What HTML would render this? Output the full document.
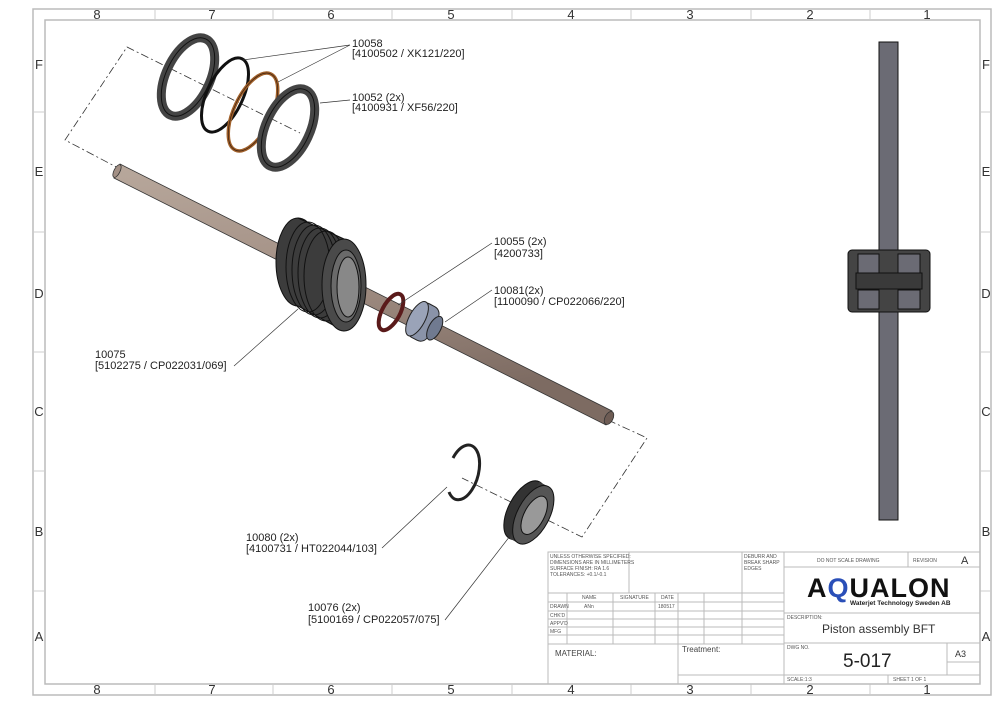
<!DOCTYPE html>
<html><head><meta charset="utf-8"><style>
html,body{margin:0;padding:0;background:#fff;}
svg{display:block;font-family:"Liberation Sans",sans-serif;}
</style></head><body>
<svg width="1000" height="707" viewBox="0 0 1000 707" xmlns="http://www.w3.org/2000/svg">
<defs>
<linearGradient id="sh" x1="0" y1="0" x2="0.3" y2="1">
<stop offset="0" stop-color="#b8a89c"/><stop offset="0.5" stop-color="#a39085"/><stop offset="1" stop-color="#7d6b62"/></linearGradient>
</defs>
<rect x="33" y="9" width="958" height="686" fill="none" stroke="#bbb" stroke-width="1.5"/>
<rect x="45" y="20" width="935" height="664" fill="none" stroke="#bbb" stroke-width="1.5"/>
<g stroke="#ccc" stroke-width="1">
<line x1="155" y1="9" x2="155" y2="20"/><line x1="273" y1="9" x2="273" y2="20"/><line x1="392" y1="9" x2="392" y2="20"/><line x1="512" y1="9" x2="512" y2="20"/><line x1="631" y1="9" x2="631" y2="20"/><line x1="751" y1="9" x2="751" y2="20"/><line x1="870" y1="9" x2="870" y2="20"/>
<line x1="155" y1="684" x2="155" y2="695"/><line x1="273" y1="684" x2="273" y2="695"/><line x1="392" y1="684" x2="392" y2="695"/><line x1="512" y1="684" x2="512" y2="695"/><line x1="631" y1="684" x2="631" y2="695"/><line x1="751" y1="684" x2="751" y2="695"/><line x1="870" y1="684" x2="870" y2="695"/>
<line x1="33" y1="112" x2="45" y2="112"/><line x1="33" y1="232" x2="45" y2="232"/><line x1="33" y1="352" x2="45" y2="352"/><line x1="33" y1="471" x2="45" y2="471"/><line x1="33" y1="591" x2="45" y2="591"/>
<line x1="980" y1="112" x2="991" y2="112"/><line x1="980" y1="232" x2="991" y2="232"/><line x1="980" y1="352" x2="991" y2="352"/><line x1="980" y1="471" x2="991" y2="471"/><line x1="980" y1="591" x2="991" y2="591"/>
</g>
<g font-size="13" fill="#333" text-anchor="middle">
<text x="97" y="19">8</text><text x="212" y="19">7</text><text x="331" y="19">6</text><text x="451" y="19">5</text><text x="571" y="19">4</text><text x="690" y="19">3</text><text x="810" y="19">2</text><text x="927" y="19">1</text>
<text x="97" y="694">8</text><text x="212" y="694">7</text><text x="331" y="694">6</text><text x="451" y="694">5</text><text x="571" y="694">4</text><text x="690" y="694">3</text><text x="810" y="694">2</text><text x="927" y="694">1</text>
<text x="39" y="69">F</text><text x="39" y="176">E</text><text x="39" y="298">D</text><text x="39" y="416">C</text><text x="39" y="536">B</text><text x="39" y="641">A</text>
<text x="986" y="69">F</text><text x="986" y="176">E</text><text x="986" y="298">D</text><text x="986" y="416">C</text><text x="986" y="536">B</text><text x="986" y="641">A</text>
</g>
<g fill="none" stroke="#333" stroke-width="0.8" stroke-dasharray="8,3,2,3">
<polyline points="122,170 65,140 127,47 300,133"/>
<polyline points="608,420 647,438 582,537 462,478"/>
<line x1="360" y1="290" x2="440" y2="330"/>
</g>
<polygon points="120,164 612,411 606,425 114,178" fill="url(#sh)" stroke="#333" stroke-width="0.8"/>
<ellipse cx="117" cy="171" rx="3" ry="7" transform="rotate(27 117 171)" fill="#a39085" stroke="#333" stroke-width="0.8"/>
<ellipse cx="609" cy="418" rx="4" ry="7" transform="rotate(27 609 418)" fill="#6e5c54" stroke="#333" stroke-width="0.8"/>
<g transform="rotate(25 188 77)"><ellipse cx="188" cy="77" rx="22" ry="42" fill="none" stroke="#444" stroke-width="9"/><ellipse cx="188" cy="77" rx="22" ry="42" fill="none" stroke="#111" stroke-width="1"/></g>
<ellipse cx="225" cy="95" rx="18" ry="40" transform="rotate(25 225 95)" fill="none" stroke="#111" stroke-width="3"/>
<ellipse cx="253" cy="112" rx="19" ry="42" transform="rotate(25 253 112)" fill="none" stroke="#a0602a" stroke-width="3.5"/>
<ellipse cx="253" cy="112" rx="19" ry="42" transform="rotate(25 253 112)" fill="none" stroke="#3a2010" stroke-width="0.7"/>
<g transform="rotate(25 288 128)"><ellipse cx="288" cy="128" rx="22" ry="42" fill="none" stroke="#444" stroke-width="9"/><ellipse cx="288" cy="128" rx="22" ry="42" fill="none" stroke="#111" stroke-width="1"/></g>
<!-- piston -->
<g stroke="#111" stroke-width="1">
<ellipse cx="298" cy="262" rx="22" ry="44" fill="#3c3c3c"/>
<polygon points="298,218 344,239 344,331 298,306" fill="#3c3c3c" stroke="none"/>
<line x1="298" y1="218" x2="344" y2="239"/><line x1="298" y1="306" x2="344" y2="331"/>
<ellipse cx="308" cy="267" rx="22" ry="45" fill="none"/>
<ellipse cx="314" cy="270" rx="22" ry="45" fill="none"/>
<ellipse cx="320" cy="273" rx="22" ry="45" fill="none"/>
<ellipse cx="326" cy="276" rx="22" ry="45" fill="none"/>
<ellipse cx="344" cy="285" rx="22" ry="46" fill="#4a4a4a"/>
<ellipse cx="346" cy="286" rx="15" ry="36" fill="#6a6a6a"/>
<ellipse cx="348" cy="287" rx="11" ry="30" fill="#888"/>
</g>
<ellipse cx="391" cy="312" rx="9" ry="20" transform="rotate(28 391 312)" fill="none" stroke="#5a1a1a" stroke-width="4"/>
<g transform="rotate(28 425 323)">
<rect x="412" y="304" width="22" height="38" rx="8" fill="#8a93a8" stroke="#222"/>
<ellipse cx="416" cy="323" rx="8" ry="19" fill="#9aa3b8" stroke="#222"/>
<ellipse cx="436" cy="323" rx="6" ry="13" fill="#707a90" stroke="#222"/>
</g>
<path d="M453,458 A15,28 15 1 1 449,492" fill="none" stroke="#222" stroke-width="3"/>
<g transform="rotate(28 528 512)">
<ellipse cx="524" cy="512" rx="16" ry="32" fill="#333" stroke="#111"/>
<rect x="524" y="480" width="10" height="64" fill="#3a3a3a"/>
<ellipse cx="534" cy="512" rx="16" ry="32" fill="#555" stroke="#111"/>
<ellipse cx="535" cy="512" rx="10" ry="21" fill="#999" stroke="#111"/>
</g>
<g stroke="#333" stroke-width="0.7" fill="none">
<line x1="350" y1="45" x2="243" y2="60"/><line x1="350" y1="45" x2="278" y2="82"/>
<line x1="350" y1="100" x2="320" y2="103"/>
<line x1="492" y1="243" x2="398" y2="305"/>
<line x1="492" y1="290" x2="445" y2="322"/>
<line x1="234" y1="366" x2="298" y2="309"/>
<line x1="382" y1="548" x2="447" y2="487"/>
<line x1="445" y1="620" x2="510" y2="536"/>
</g>
<g font-size="11" fill="#222">
<text x="352" y="47">10058</text><text x="352" y="57">[4100502 / XK121/220]</text>
<text x="352" y="101">10052 (2x)</text><text x="352" y="111">[4100931 / XF56/220]</text>
<text x="494" y="245">10055 (2x)</text><text x="494" y="257">[4200733]</text>
<text x="494" y="294">10081(2x)</text><text x="494" y="305">[1100090 / CP022066/220]</text>
<text x="95" y="358">10075</text><text x="95" y="369">[5102275 / CP022031/069]</text>
<text x="246" y="541">10080 (2x)</text><text x="246" y="552">[4100731 / HT022044/103]</text>
<text x="308" y="611">10076 (2x)</text><text x="308" y="623">[5100169 / CP022057/075]</text>
</g>
<rect x="879" y="42" width="19" height="478" fill="#6b6b74" stroke="#111"/>
<rect x="848" y="250" width="82" height="62" rx="4" fill="#444" stroke="#111"/>
<rect x="858" y="254" width="21" height="20" fill="#6b6b74" stroke="#111"/>
<rect x="898" y="254" width="22" height="20" fill="#6b6b74" stroke="#111"/>
<rect x="858" y="290" width="21" height="19" fill="#6b6b74" stroke="#111"/>
<rect x="898" y="290" width="22" height="19" fill="#6b6b74" stroke="#111"/>
<rect x="856" y="273" width="66" height="16" fill="#3a3a3a" stroke="#111"/>
<g stroke="#bbb" stroke-width="1" fill="none">
<rect x="548" y="552" width="432" height="132"/>
<line x1="548" y1="593" x2="784" y2="593"/>
<line x1="548" y1="602" x2="784" y2="602"/><line x1="548" y1="611" x2="784" y2="611"/><line x1="548" y1="619" x2="784" y2="619"/><line x1="548" y1="627" x2="784" y2="627"/><line x1="548" y1="635" x2="784" y2="635"/>
<line x1="548" y1="644" x2="784" y2="644"/>
<line x1="678" y1="675" x2="980" y2="675"/>
<line x1="629" y1="552" x2="629" y2="593"/>
<line x1="742" y1="552" x2="742" y2="644"/>
<line x1="567" y1="593" x2="567" y2="644"/><line x1="613" y1="593" x2="613" y2="644"/><line x1="655" y1="593" x2="655" y2="644"/><line x1="678" y1="593" x2="678" y2="684"/><line x1="704" y1="593" x2="704" y2="644"/>
<line x1="784" y1="552" x2="784" y2="684"/>
<line x1="784" y1="567" x2="980" y2="567"/><line x1="784" y1="613" x2="980" y2="613"/><line x1="784" y1="643" x2="980" y2="643"/>
<line x1="908" y1="552" x2="908" y2="567"/><line x1="947" y1="643" x2="947" y2="675"/><line x1="947" y1="662" x2="980" y2="662"/>
<line x1="888" y1="675" x2="888" y2="684"/>
</g>
<g font-size="5" fill="#555">
<text x="550" y="558">UNLESS OTHERWISE SPECIFIED:</text><text x="550" y="564">DIMENSIONS ARE IN MILLIMETERS</text><text x="550" y="570">SURFACE FINISH: RA 1.6</text><text x="550" y="576">TOLERANCES: +0.1/-0.1</text>
<text x="744" y="558">DEBURR AND</text><text x="744" y="564">BREAK SHARP</text><text x="744" y="570">EDGES</text>
<text x="582" y="599">NAME</text><text x="620" y="599">SIGNATURE</text><text x="661" y="599">DATE</text>
<text x="550" y="608">DRAWN</text><text x="584" y="608">ANn</text><text x="658" y="608">180517</text>
<text x="550" y="617">CHK'D</text><text x="550" y="625">APPV'D</text><text x="550" y="633">MFG</text>
<text x="817" y="562">DO NOT SCALE DRAWING</text><text x="913" y="562">REVISION</text>
<text x="787" y="619">DESCRIPTION:</text><text x="787" y="649">DWG NO.</text>
<text x="787" y="681">SCALE:1:3</text><text x="893" y="681">SHEET 1 OF 1</text>
</g>
<text x="961" y="564" font-size="11" fill="#333">A</text>
<text x="555" y="656" font-size="8" fill="#444">MATERIAL:</text>
<text x="682" y="652" font-size="8" fill="#444">Treatment:</text>
<text x="822" y="633" font-size="12" fill="#333">Piston assembly BFT</text>
<text x="843" y="667" font-size="19" fill="#222">5-017</text>
<text x="955" y="657" font-size="9" fill="#333">A3</text>
<text x="807" y="597" font-size="27" font-weight="bold" fill="#111" letter-spacing="1">A<tspan fill="#2a4fb8">Q</tspan>UALON</text>
<text x="850" y="605" font-size="6.5" font-weight="bold" fill="#222">Waterjet Technology Sweden AB</text>
</svg>
</body></html>
